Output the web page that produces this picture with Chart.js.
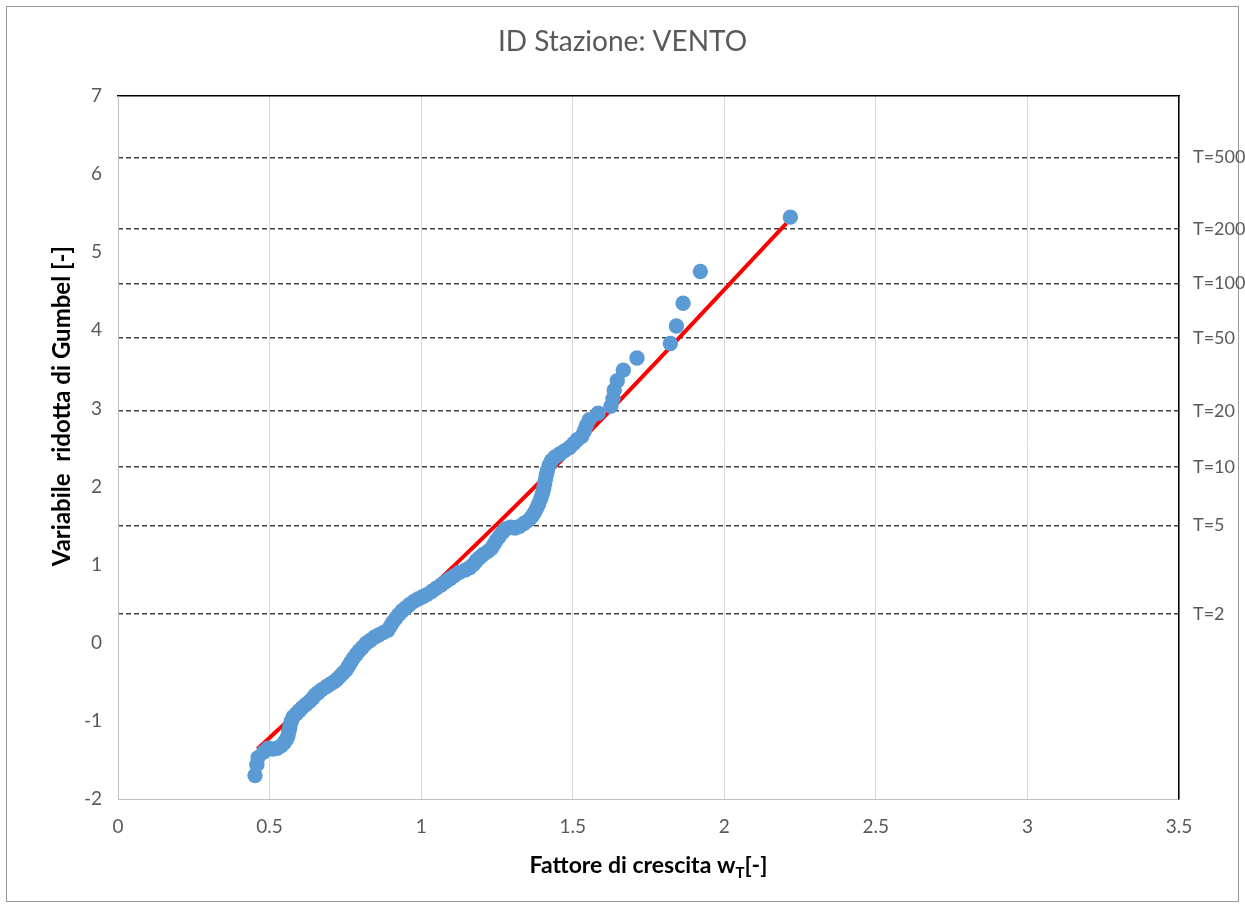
<!DOCTYPE html>
<html>
<head>
<meta charset="utf-8">
<title>ID Stazione: VENTO</title>
<script src="https://cdn.jsdelivr.net/npm/chart.js@4"></script>
<style>
  html, body { margin: 0; padding: 0; background: #fff; }
  #wrap { width: 1245px; height: 908px; }
</style>
</head>
<body>
<div id="wrap"><canvas id="gumbelChart" width="1245" height="908"></canvas></div>
<script>
// fattore di crescita osservato wT e variabile ridotta di Gumbel
const obsW = [
  0.452, 0.458, 0.462, 0.480, 0.495, 0.510, 0.525, 0.538, 0.548, 0.555,
  0.560, 0.563, 0.566, 0.568, 0.572, 0.578, 0.588, 0.598, 0.608, 0.620,
  0.632, 0.642, 0.650, 0.660, 0.672, 0.688, 0.700, 0.712, 0.722, 0.732,
  0.742, 0.752, 0.760, 0.768, 0.776, 0.786, 0.796, 0.806, 0.818, 0.832,
  0.846, 0.860, 0.875, 0.890, 0.898, 0.906, 0.916, 0.926, 0.938, 0.950,
  0.962, 0.976, 0.990, 1.005, 1.020, 1.036, 1.050, 1.066, 1.080, 1.095,
  1.110, 1.125, 1.145, 1.160, 1.172, 1.182, 1.193, 1.205, 1.220, 1.232,
  1.240, 1.248, 1.258, 1.268, 1.280, 1.295, 1.310, 1.325, 1.340, 1.355,
  1.366, 1.374, 1.381, 1.388, 1.395, 1.400, 1.404, 1.407, 1.410, 1.413,
  1.416, 1.422, 1.430, 1.442, 1.458, 1.474, 1.490, 1.503, 1.515, 1.530,
  1.538, 1.545, 1.555, 1.584, 1.626, 1.633, 1.637, 1.647, 1.667, 1.712,
  1.822, 1.842, 1.864, 1.921, 2.218
];
const obsY = [
  -1.70, -1.56, -1.47, -1.40, -1.35, -1.36, -1.35, -1.32, -1.28, -1.24,
  -1.20, -1.15, -1.10, -1.05, -1.00, -0.95, -0.91, -0.87, -0.83, -0.79,
  -0.75, -0.71, -0.67, -0.64, -0.60, -0.56, -0.53, -0.50, -0.47, -0.43,
  -0.39, -0.35, -0.30, -0.25, -0.20, -0.15, -0.10, -0.06, -0.01, 0.03,
  0.07, 0.10, 0.13, 0.16, 0.21, 0.26, 0.31, 0.36, 0.41, 0.45,
  0.49, 0.53, 0.56, 0.59, 0.62, 0.66, 0.70, 0.74, 0.78, 0.82,
  0.86, 0.90, 0.93, 0.96, 1.00, 1.05, 1.09, 1.13, 1.17, 1.21,
  1.26, 1.31, 1.36, 1.41, 1.46, 1.48, 1.47, 1.49, 1.53, 1.57,
  1.62, 1.67, 1.72, 1.78, 1.85, 1.91, 1.97, 2.03, 2.09, 2.15,
  2.20, 2.27, 2.33, 2.38, 2.42, 2.46, 2.50, 2.55, 2.60, 2.643,
  2.710, 2.781, 2.857, 2.939, 3.029, 3.126, 3.234, 3.354, 3.490, 3.646,
  3.831, 4.056, 4.346, 4.753, 5.449
];

// curva teorica (rossa)
const fitW = [0.46, 1.12, 1.56, 2.205];
const fitY = [-1.36, 1.03, 2.72, 5.37];

// tempi di ritorno e relativa variabile ridotta
const returnPeriods = [2, 5, 10, 20, 50, 100, 200, 500];
const returnY = [0.3665, 1.4999, 2.2504, 2.9702, 3.9019, 4.6001, 5.2958, 6.2136];

const FONT = 'Lato';
const GREY = '#595959';

// bordo esterno del grafico
const frame = {
  id: 'frame',
  beforeDraw(chart) {
    const ctx = chart.ctx;
    ctx.save();
    ctx.fillStyle = '#fff';
    ctx.fillRect(0, 0, chart.width, chart.height);
    ctx.strokeStyle = '#9a9a9a';
    ctx.lineWidth = 1;
    ctx.strokeRect(6.5, 6.5, chart.width - 13, chart.height - 13);
    ctx.restore();
  }
};

// titoli degli assi (quello x ha il pedice T)
const axisTitles = {
  id: 'axisTitles',
  afterDraw(chart) {
    const ctx = chart.ctx;
    const area = chart.chartArea;
    const big = 'bold 23px ' + FONT;
    const small = 'bold 15px ' + FONT;
    const parts = [['Fattore di crescita w', big, 0], ['T', small, 5], ['[-]', big, 0]];
    ctx.save();
    let total = 0;
    parts.forEach(p => { ctx.font = p[1]; total += ctx.measureText(p[0]).width; });
    let x = (area.left + area.right) / 2 - total / 2;
    ctx.fillStyle = '#000';
    ctx.textBaseline = 'alphabetic';
    ctx.textAlign = 'left';
    parts.forEach(p => {
      ctx.font = p[1];
      ctx.fillText(p[0], x, 873 + p[2]);
      x += ctx.measureText(p[0]).width;
    });

    // titolo asse y
    const yMid = chart.scales.y.getPixelForValue(3.03);
    ctx.translate(62, yMid);
    ctx.rotate(-Math.PI / 2);
    ctx.font = 'bold 24px ' + FONT;
    ctx.textAlign = 'center';
    ctx.textBaseline = 'middle';
    ctx.fillText('Variabile  ridotta di Gumbel [-]', 0, 0);
    ctx.restore();
  }
};

new Chart(document.getElementById('gumbelChart'), {
  type: 'scatter',
  data: {
    datasets: [
      {
        label: 'Osservati',
        data: obsW.map((w, i) => ({ x: w, y: obsY[i] })),
        backgroundColor: '#5B9BD5',
        borderColor: '#5B9BD5',
        borderWidth: 0,
        pointRadius: 7.7,
        pointHoverRadius: 7.7
      },
      {
        type: 'line',
        label: 'Gumbel',
        data: fitW.map((w, i) => ({ x: w, y: fitY[i] })),
        borderColor: '#FF0000',
        borderWidth: 4,
        pointRadius: 0,
        fill: false,
        cubicInterpolationMode: 'monotone'
      }
    ]
  },
  options: {
    responsive: false,
    animation: false,
    layout: { padding: 0 },
    plugins: {
      legend: { display: false },
      tooltip: { enabled: false },
      title: {
        display: true,
        text: 'ID Stazione: VENTO',
        color: GREY,
        font: { family: FONT, size: 28, weight: 'normal', lineHeight: 1.2 },
        padding: { top: 25, bottom: 0 }
      }
    },
    scales: {
      x: {
        type: 'linear',
        position: 'bottom',
        min: 0,
        max: 3.5,
        afterFit: s => { s.height = 109; },
        ticks: {
          stepSize: 0.5,
          color: GREY,
          font: { family: FONT, size: 19 },
          padding: 16,
          callback: v => String(v)
        },
        grid: { color: '#d9d9d9', lineWidth: 1, drawTicks: false },
        border: { color: '#bfbfbf', width: 1 }
      },
      x2: {
        type: 'linear',
        position: 'top',
        min: 0,
        max: 3.5,
        afterFit: s => { s.height = 96 - 58.6; },
        ticks: { display: false },
        grid: { display: false, drawTicks: false },
        border: { color: '#000', width: 1.5 }
      },
      y: {
        type: 'linear',
        position: 'left',
        min: -2,
        max: 7,
        afterFit: s => { s.width = 118; },
        ticks: {
          stepSize: 1,
          color: GREY,
          font: { family: FONT, size: 19 },
          padding: 16,
          callback: v => String(v)
        },
        grid: { display: false, drawTicks: false },
        border: { color: '#bfbfbf', width: 1 }
      },
      y2: {
        type: 'linear',
        position: 'right',
        min: -2,
        max: 7,
        afterFit: s => { s.width = 66; },
        afterBuildTicks: s => { s.ticks = returnY.map(v => ({ value: v })); },
        ticks: {
          color: GREY,
          font: { family: FONT, size: 18 },
          padding: 14,
          crossAlign: 'near',
          autoSkip: false,
          callback: (v, i) => 'T=' + returnPeriods[i]
        },
        grid: { color: '#404040', lineWidth: 1.5, drawTicks: false },
        border: { color: '#000', width: 1.5, dash: [5, 3] }
      }
    }
  },
  plugins: [frame, axisTitles]
});
</script>
</body>
</html>
